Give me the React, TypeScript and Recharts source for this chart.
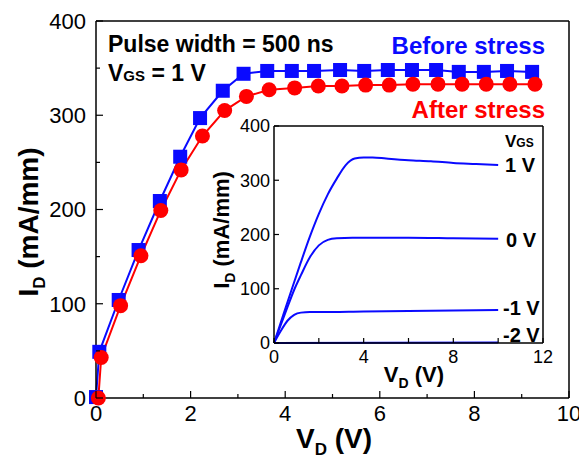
import { LineChart, Line, XAxis, YAxis } from 'recharts';

// main chart: pulsed I-V, VGS = 1 V
const beforeVd = [0, 0.07, 0.48, 0.9, 1.35, 1.78, 2.2, 2.68, 3.12, 3.62, 4.14, 4.61, 5.16, 5.67, 6.17, 6.68, 7.19, 7.67, 8.2, 8.69, 9.22];
const beforeId = [1, 49, 104, 157, 209, 256, 297, 326, 344, 347, 347, 347, 348, 347, 348, 348, 348, 346, 346, 347, 346];
const afterVd = [0.05, 0.11, 0.52, 0.95, 1.37, 1.8, 2.25, 2.72, 3.18, 3.66, 4.2, 4.7, 5.2, 5.7, 6.2, 6.7, 7.23, 7.74, 8.25, 8.75, 9.28];
const afterId = [0, 43, 98, 151, 199, 242, 278, 305, 320, 327, 329, 331, 331, 332, 332, 333, 333, 333, 333, 333, 333];

const mainXTicks = [0, 1, 2, 3, 4, 5, 6, 7, 8, 9, 10];
const mainYTicks = [0, 50, 100, 150, 200, 250, 300, 350, 400];

// inset: DC output curves
const vgs1Vd = [0, 0.4, 0.8, 1.2, 1.6, 2.0, 2.4, 2.8, 3.2, 3.6, 4.0, 4.4, 5, 6, 7, 8, 9, 10];
const vgs1Id = [0, 50, 100, 149, 196, 238, 274, 303, 328, 340, 342, 342, 340, 337, 335, 332, 330, 328];
const vgs0Vd = [0, 0.5, 0.92, 1.2, 1.6, 2.0, 2.4, 2.8, 3.5, 4, 6, 8, 10];
const vgs0Id = [0, 55, 100, 125, 158, 180, 190, 193, 194, 194, 194, 193, 192];
const vgsM1Vd = [0, 0.3, 0.6, 0.9, 1.2, 1.6, 2, 4, 6, 8, 10];
const vgsM1Id = [0, 22, 41, 52, 56, 57, 57, 58, 59, 60, 61];
const vgsM2Vd = [0, 10];
const vgsM2Id = [0, 1];

const insetXTicks = [0, 2, 4, 6, 8, 10, 12];
const insetYTicks = [0, 100, 200, 300, 400];

const toPts = (xs: number[], ys: number[]) => xs.map((v, i) => ({ v, i: ys[i] }));

const FONT = '"Liberation Sans", Arial, sans-serif';
const BLUE = '#0a0aff';
const RED = '#ff0000';

const Square = (p: any) => (
  <rect key={p.index} x={p.cx - 7} y={p.cy - 7} width={14} height={14} fill={BLUE} />
);
const Circle = (p: any) => (
  <circle key={p.index} cx={p.cx} cy={p.cy} r={7.5} fill={RED} />
);

// tick makers: ticks drawn inward, labels optional
const xTick = (dir: number, major: (v: number) => boolean, fs: number, off: number, big: number, small: number, showLabel: boolean) =>
  (p: any) => {
    const v = p.payload.value;
    const m = major(v);
    return (
      <g>
        <line x1={p.x} x2={p.x} y1={p.y} y2={p.y + dir * (m ? big : small)} stroke="#000" strokeWidth={1.2} />
        {showLabel && m && (
          <text x={p.x} y={p.y + off} textAnchor="middle" fontSize={fs} fontFamily={FONT} fill="#000">{v}</text>
        )}
      </g>
    );
  };

const yTick = (dir: number, major: (v: number) => boolean, fs: number, off: number, big: number, small: number, showLabel: boolean) =>
  (p: any) => {
    const v = p.payload.value;
    const m = major(v);
    return (
      <g>
        <line x1={p.x} x2={p.x + dir * (m ? big : small)} y1={p.y} y2={p.y} stroke="#000" strokeWidth={1.2} />
        {showLabel && m && (
          <text x={p.x - off} y={p.y + fs * 0.36} textAnchor="end" fontSize={fs} fontFamily={FONT} fill="#000">{v}</text>
        )}
      </g>
    );
  };

const axisLine = { stroke: '#000', strokeWidth: 1.5 };

export default function App() {
  const before = toPts(beforeVd, beforeId);
  const after = toPts(afterVd, afterId);

  return (
    <div style={{ position: 'absolute', left: 0, top: 0, width: 579, height: 468, background: '#fff' }}>
      <LineChart width={579} height={468} margin={{ top: 0, right: 0, bottom: 0, left: 0 }}>
        <XAxis xAxisId="b" dataKey="v" type="number" domain={[0, 10]} ticks={mainXTicks} interval={0}
          orientation="bottom" height={70} tickSize={0} tickMargin={0} axisLine={axisLine} tickLine={false}
          tick={xTick(-1, (v) => v % 2 === 0, 22, 23, 7, 4, true)} />
        <XAxis xAxisId="t" dataKey="v" type="number" domain={[0, 10]} ticks={mainXTicks} interval={0}
          orientation="top" height={21} tickSize={0} tickMargin={0} axisLine={axisLine} tickLine={false}
          tick={xTick(1, (v) => v % 2 === 0, 22, 0, 7, 4, false)} />
        <YAxis yAxisId="l" type="number" domain={[0, 400]} ticks={mainYTicks} interval={0}
          orientation="left" width={96} tickSize={0} tickMargin={0} axisLine={axisLine} tickLine={false}
          tick={yTick(1, (v) => v % 100 === 0, 22, 10, 7, 4, true)} />
        <YAxis yAxisId="r" type="number" domain={[0, 400]} ticks={mainYTicks} interval={0}
          orientation="right" width={10} tickSize={0} tickMargin={0} axisLine={axisLine} tickLine={false}
          tick={yTick(-1, (v) => v % 100 === 0, 22, 0, 7, 4, false)} />
        <Line xAxisId="b" yAxisId="l" data={before} dataKey="i" type="linear" stroke={BLUE} strokeWidth={2}
          dot={Square} isAnimationActive={false} />
        <Line xAxisId="b" yAxisId="l" data={after} dataKey="i" type="linear" stroke={RED} strokeWidth={2}
          dot={Circle} isAnimationActive={false} />
      </LineChart>

      <div style={{ position: 'absolute', left: 200, top: 110 }}>
        <LineChart width={360} height={290} margin={{ top: 0, right: 0, bottom: 0, left: 0 }}>
          <XAxis xAxisId="b" dataKey="v" type="number" domain={[0, 12]} ticks={insetXTicks} interval={0}
            orientation="bottom" height={57} tickSize={0} tickMargin={0} axisLine={axisLine} tickLine={false}
            tick={xTick(-1, (v) => v % 4 === 0, 18, 20, 5, 5, true)} />
          <XAxis xAxisId="t" dataKey="v" type="number" domain={[0, 12]} ticks={insetXTicks} interval={0}
            orientation="top" height={16} tickSize={0} tickMargin={0} axisLine={axisLine} tickLine={false}
            tick={xTick(1, () => true, 18, 0, 5, 5, false)} />
          <YAxis yAxisId="l" type="number" domain={[0, 400]} ticks={insetYTicks} interval={0}
            orientation="left" width={74} tickSize={0} tickMargin={0} axisLine={axisLine} tickLine={false}
            tick={yTick(1, () => true, 18, 4, 5, 5, true)} />
          <YAxis yAxisId="r" type="number" domain={[0, 400]} ticks={insetYTicks} interval={0}
            orientation="right" width={17} tickSize={0} tickMargin={0} axisLine={axisLine} tickLine={false}
            tick={yTick(-1, () => true, 18, 0, 5, 5, false)} />
          <Line xAxisId="b" yAxisId="l" data={toPts(vgsM2Vd, vgsM2Id)} dataKey="i" type="linear" stroke={BLUE}
            strokeWidth={2} dot={false} isAnimationActive={false} />
          <Line xAxisId="b" yAxisId="l" data={toPts(vgsM1Vd, vgsM1Id)} dataKey="i" type="monotone" stroke={BLUE}
            strokeWidth={2} dot={false} isAnimationActive={false} />
          <Line xAxisId="b" yAxisId="l" data={toPts(vgs0Vd, vgs0Id)} dataKey="i" type="monotone" stroke={BLUE}
            strokeWidth={2} dot={false} isAnimationActive={false} />
          <Line xAxisId="b" yAxisId="l" data={toPts(vgs1Vd, vgs1Id)} dataKey="i" type="monotone" stroke={BLUE}
            strokeWidth={2} dot={false} isAnimationActive={false} />
        </LineChart>
      </div>

      <svg width={579} height={468} style={{ position: 'absolute', left: 0, top: 0, pointerEvents: 'none' }}
        fontFamily={FONT} fontWeight="bold">
        <text x={108} y={52} fontSize={23} fill="#000">Pulse width = 500 ns</text>
        <text x={108} y={81} fontSize={23} fill="#000">V<tspan fontSize={15}>GS</tspan> = 1 V</text>
        <text x={545} y={54} fontSize={24} fill={BLUE} textAnchor="end">Before stress</text>
        <text x={545} y={118} fontSize={24} fill={RED} textAnchor="end">After stress</text>

        <text transform="translate(38,222) rotate(-90)" fontSize={28} textAnchor="middle" fill="#000">
          I<tspan fontSize={17} dy={7}>D</tspan><tspan dy={-7}> (mA/mm)</tspan>
        </text>
        <text x={334} y={448} fontSize={28} textAnchor="middle" fill="#000">
          V<tspan fontSize={17} dy={7}>D</tspan><tspan dy={-7}> (V)</tspan>
        </text>

        <text transform="translate(229,230) rotate(-90)" fontSize={22} textAnchor="middle" fill="#000">
          I<tspan fontSize={14} dy={6}>D</tspan><tspan dy={-6}> (mA/mm)</tspan>
        </text>
        <text x={414} y={382} fontSize={22} textAnchor="middle" fill="#000">
          V<tspan fontSize={14} dy={6}>D</tspan><tspan dy={-6}> (V)</tspan>
        </text>

        <text x={505} y={147} fontSize={17} fill="#000">V<tspan fontSize={12}>GS</tspan></text>
        <text x={505} y={172} fontSize={20} fill="#000">1 V</text>
        <text x={506} y={247} fontSize={20} fill="#000">0 V</text>
        <text x={503} y={315} fontSize={20} fill="#000">-1 V</text>
        <text x={503} y={342} fontSize={20} fill="#000">-2 V</text>
      </svg>
    </div>
  );
}
